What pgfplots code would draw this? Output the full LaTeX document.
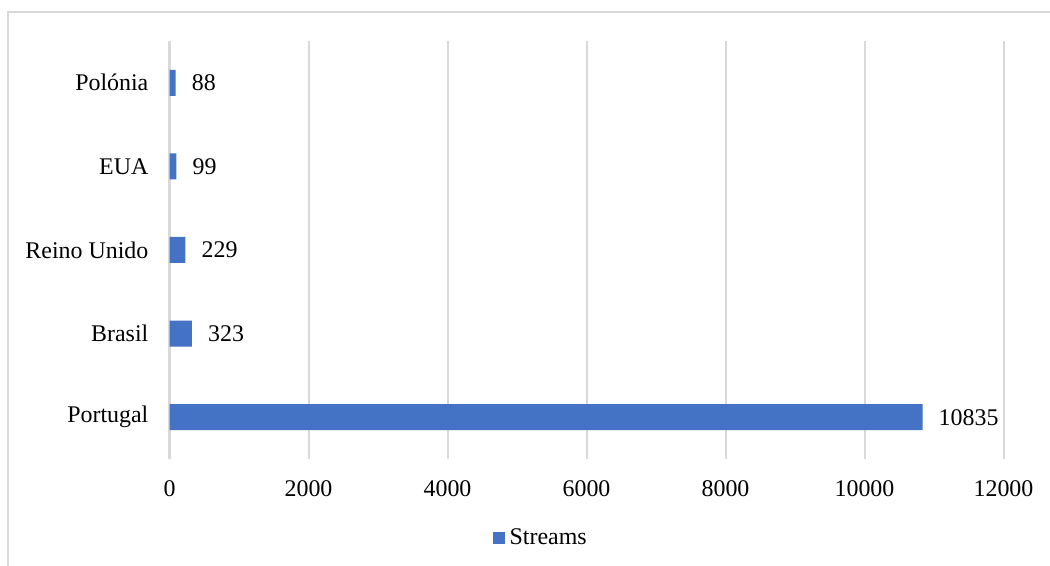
\documentclass[border=0pt]{standalone}
\usepackage{pgfplots}
\pgfplotsset{compat=1.18}
\usepackage{fontspec}
\setmainfont{Liberation Serif}
\definecolor{barblue}{HTML}{4472C4}
\definecolor{gridgray}{HTML}{D9D9D9}
\begin{document}
\fontsize{24}{28}\selectfont
\begin{tikzpicture}
\useasboundingbox (0,0) rectangle (1050bp,566bp);
\draw[gridgray, line width=1.5bp] (8bp,-20bp) -- (8bp,554bp) -- (1070bp,554bp);
\begin{axis}[
  at={(169.5bp,107bp)}, anchor=south west,
  scale only axis, width=834bp, height=418bp,
  xbar, bar width=26bp,
  xmin=0, xmax=12000, ymin=-0.5, ymax=4.5,
  xtick={0,2000,...,12000},
  ytick={0,1,2,3,4},
  yticklabels={Portugal,Brasil,Reino Unido,EUA,Polónia},
  scaled x ticks=false,
  /pgf/number format/.cd, 1000 sep={}, assume math mode=true, /pgfplots/.cd,
  xmajorgrids, major grid style={gridgray, line width=2bp},
  axis line style={draw=none},
  major tick length=0pt,
  xticklabel style={yshift=-13bp},
  yticklabel style={xshift=-13bp},
  nodes near coords,
  nodes near coords style={anchor=west, inner sep=0pt, xshift=16bp, black},
  legend style={at={(0.445,-0.189)}, anchor=center, draw=none, fill=none,
    legend cell align=left, inner sep=0pt,
    /tikz/every odd column/.append style={column sep=3bp}},
  legend image code/.code={\fill[#1] (0bp,-6bp) rectangle (12bp,6bp);},
  clip=false,
]
\addplot[fill=barblue, draw=none] coordinates {
  (10835,0) (323,1) (229,2) (99,3) (88,4)
};
\legend{Streams}
\end{axis}
\end{tikzpicture}
\end{document}
